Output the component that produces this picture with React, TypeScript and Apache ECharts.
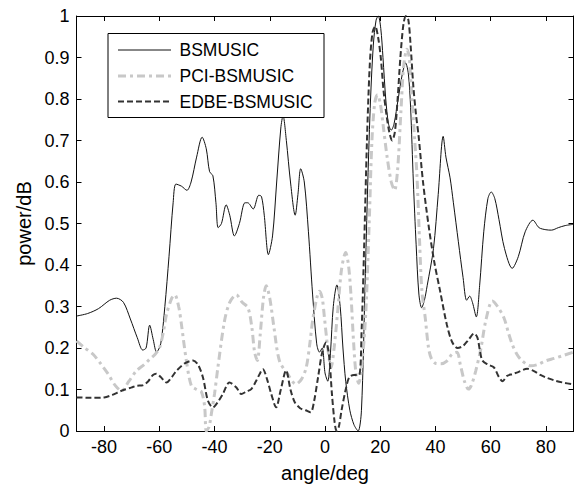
import React, { useEffect, useRef } from "react";
import * as echarts from "echarts";

const xTicks = [-80, -60, -40, -20, 0, 20, 40, 60, 80];
const seriesNames = ["BSMUSIC", "PCI-BSMUSIC", "EDBE-BSMUSIC"];

const bsAngles = [
  -90, -86, -82, -78, -75.5, -73, -70.5, -68, -66, -64.8, -63.5, -62.2, -61, -59.5, -58, -56.5, -55, -54, -52, -50,
  -48.5, -46.5, -44.5, -43, -41.8, -40.6, -39.5, -38.7, -37.5, -35.8, -34.5, -32.8, -31, -29, -28, -26, -24, -23, -22,
  -20.5, -19, -17.5, -16, -15.2, -14, -12.5, -10.8, -9.8, -8.8, -7.5, -6, -4.5, -3, -2, -1, 0, 1, 2, 3, 4.3, 5.5, 6.5,
  7.5, 9, 10.5, 12, 13.2, 14.5, 15.5, 16.5, 17.5, 18.5, 19.3, 20.2, 21, 22, 23, 24, 25, 26.5, 28, 29.2, 30.2, 31, 32,
  33, 34, 35, 36, 37, 39.3, 41, 42.8, 43.8, 45.3, 46.5, 48.3, 50, 51.3, 52.4, 53.4, 54.8, 56, 57.5, 59, 60.2, 61.5, 63,
  65, 67.8, 70, 72.5, 75.3, 77.5, 80, 82, 84.5, 87, 90,
];
const bsValues = [
  0.277, 0.283, 0.295, 0.315, 0.32, 0.31, 0.27, 0.225, 0.195, 0.2, 0.255, 0.22, 0.19, 0.21, 0.3, 0.42, 0.55, 0.595, 0.59,
  0.58, 0.6, 0.66, 0.708, 0.68, 0.625, 0.615, 0.55, 0.49, 0.5, 0.545, 0.52, 0.47, 0.5, 0.55, 0.55, 0.535, 0.568, 0.565,
  0.52, 0.425, 0.47, 0.6, 0.73, 0.76, 0.7, 0.6, 0.52, 0.57, 0.632, 0.6, 0.48, 0.33, 0.21, 0.19, 0.2, 0.14, 0.12, 0.19,
  0.3, 0.352, 0.3, 0.2, 0.12, 0.05, 0.015, 0.0, 0.05, 0.35, 0.6, 0.8, 0.93, 0.99, 1.0, 0.97, 0.9, 0.8, 0.74, 0.725, 0.74,
  0.8, 0.86, 0.887, 0.86, 0.78, 0.6, 0.45, 0.33, 0.297, 0.315, 0.35, 0.44, 0.57, 0.71, 0.66, 0.61, 0.55, 0.456, 0.37,
  0.315, 0.325, 0.31, 0.275, 0.35, 0.48, 0.56, 0.576, 0.56, 0.51, 0.44, 0.392, 0.42, 0.48, 0.508, 0.49, 0.485, 0.484,
  0.49, 0.495, 0.498,
];

const pciAngles = [
  -90, -87, -84, -81, -78.5, -76, -73.7, -71, -68.3, -65.5, -63.5, -61.5, -59.9, -58.5, -57.4, -55.5, -54.4, -53, -52,
  -50.2, -48.4, -46.5, -44.8, -43.6, -43, -42, -41.2, -40, -38.8, -36.4, -34.5, -32.1, -30, -27.9, -26.5, -25.5, -24.5,
  -23.5, -22.3, -21.3, -20, -18.5, -16.5, -13.5, -10.5, -8.5, -6.8, -5.5, -4.5, -3, -2, -1, -0.2, 1, 2.2, 3.3, 4.6, 6,
  7.5, 8.5, 9.4, 10.3, 11.2, 12.2, 13.5, 14.8, 16, 17, 18, 19, 20, 21, 22.5, 24, 25.2, 26.3, 27.5, 28.5, 29.7, 30.5,
  31.5, 32.5, 33.3, 34.3, 35.1, 36.3, 37.5, 38.5, 40, 42, 44, 46, 47.8, 49, 50.5, 51.9, 53, 54.6, 56.5, 58.2, 60.6, 62.5,
  64.8, 66.5, 67.8, 69.5, 71.4, 74.5, 77, 79.9, 83, 85.9, 90,
];
const pciValues = [
  0.217, 0.2, 0.185, 0.16, 0.137, 0.11, 0.097, 0.12, 0.145, 0.16, 0.173, 0.185, 0.201, 0.24, 0.281, 0.32, 0.328, 0.3,
  0.257, 0.169, 0.109, 0.1, 0.095, 0.06, 0.0, 0.01, 0.04, 0.09, 0.153, 0.265, 0.31, 0.328, 0.31, 0.297, 0.25, 0.19, 0.17,
  0.23, 0.32, 0.35, 0.32, 0.25, 0.169, 0.137, 0.113, 0.125, 0.153, 0.21, 0.265, 0.32, 0.337, 0.32, 0.273, 0.2, 0.153,
  0.2, 0.289, 0.39, 0.43, 0.4, 0.328, 0.22, 0.14, 0.115, 0.17, 0.289, 0.5, 0.7, 0.79, 0.81, 0.79, 0.74, 0.66, 0.6, 0.58,
  0.63, 0.77, 0.88, 0.92, 0.9, 0.8, 0.7, 0.616, 0.45, 0.337, 0.273, 0.2, 0.175, 0.163, 0.162, 0.168, 0.185, 0.19, 0.16,
  0.12, 0.101, 0.11, 0.145, 0.2, 0.265, 0.313, 0.3, 0.273, 0.235, 0.209, 0.185, 0.169, 0.157, 0.16, 0.169, 0.175, 0.181,
  0.19,
];

const edbeAngles = [
  -90, -85, -80, -77, -73.7, -70, -68.3, -66, -64, -62.3, -61.1, -59.5, -57.4, -55.5, -53.8, -50.8, -47.8, -46, -44.2,
  -42.4, -40.6, -38.8, -37, -34.6, -32.1, -30.3, -28.5, -26.7, -25, -23.7, -22.5, -21, -19.5, -17.7, -16, -14.1, -12.5,
  -11, -9, -7, -5.2, -4, -2.5, -1, 0.4, 1.5, 2.5, 3.5, 4.2, 5, 6, 7.5, 8.8, 10.5, 12.3, 13.3, 14.2, 15.2, 16.2, 17.2,
  18.2, 19.2, 20.2, 21.2, 22.3, 23.3, 24.3, 25.3, 26.3, 27.3, 28.4, 29.3, 30.2, 31, 32, 33, 33.9, 35.5, 37.5, 39.5, 41.7,
  44.1, 46, 48, 50, 52, 54, 55.2, 56.2, 57, 59, 61.2, 63, 64.3, 66, 67.8, 70, 73.2, 75.5, 78, 80, 83, 86, 90,
];
const edbeValues = [
  0.081, 0.08, 0.081, 0.087, 0.097, 0.105, 0.109, 0.11, 0.12, 0.135, 0.138, 0.13, 0.117, 0.13, 0.145, 0.163, 0.17, 0.16,
  0.129, 0.073, 0.057, 0.07, 0.089, 0.117, 0.105, 0.089, 0.095, 0.101, 0.12, 0.137, 0.149, 0.125, 0.09, 0.057, 0.1,
  0.146, 0.1, 0.07, 0.055, 0.05, 0.045, 0.07, 0.13, 0.19, 0.213, 0.18, 0.09, 0.02, 0.0, 0.01, 0.05, 0.1, 0.13, 0.135,
  0.135, 0.25, 0.45, 0.7, 0.88, 0.96, 0.975, 0.95, 0.9, 0.82, 0.76, 0.72, 0.7, 0.72, 0.8, 0.9, 0.98, 1.0, 0.99, 0.93,
  0.83, 0.76, 0.711, 0.6, 0.496, 0.41, 0.337, 0.257, 0.215, 0.2, 0.205, 0.22, 0.235, 0.225, 0.19, 0.17, 0.16, 0.153,
  0.13, 0.12, 0.133, 0.137, 0.142, 0.15, 0.145, 0.135, 0.129, 0.122, 0.117, 0.112,
];

const pairs = (xs: number[], ys: number[]) => xs.map((x, i) => [x, ys[i]]);

const FONT = "'Liberation Sans', Arial, sans-serif";

const seriesStyles = [
  { color: "#111", width: 1, dash: null as number[] | null },
  { color: "#c8c8c8", width: 3, dash: [8, 4, 3, 4] },
  { color: "#333", width: 2, dash: [6, 3] },
];

export default function App() {
  const ref = useRef<HTMLDivElement>(null);
  useEffect(() => {
    if (!ref.current) return;
    const chart = echarts.init(ref.current, null, { renderer: "svg" });
    const axisLine = { show: true, onZero: false, lineStyle: { color: "#000", width: 1 } };
    const tick = { show: true, inside: true, length: 5, lineStyle: { color: "#000" } };

    const legendX = 108;
    const legendY = 33.5;
    const rowY = [50, 76, 101.5];
    const legendGraphics: any[] = [
      {
        type: "rect",
        z: 10,
        shape: { x: legendX, y: legendY, width: 216, height: 84 },
        style: { fill: "#fff", stroke: "#000", lineWidth: 1 },
      },
    ];
    seriesNames.forEach((name, i) => {
      const s = seriesStyles[i];
      legendGraphics.push({
        type: "line",
        z: 11,
        shape: { x1: 118, y1: rowY[i], x2: 171, y2: rowY[i] },
        style: { stroke: s.color, lineWidth: s.width, lineDash: s.dash || undefined },
      });
      legendGraphics.push({
        type: "text",
        z: 11,
        x: 179.5,
        y: rowY[i],
        style: {
          text: name,
          fill: "#000",
          font: `17.5px ${FONT}`,
          textVerticalAlign: "middle",
          verticalAlign: "middle",
        },
      });
    });

    chart.setOption({
      animation: false,
      backgroundColor: "#fff",
      textStyle: { fontFamily: FONT },
      grid: { left: 76.5, right: 0.5, top: 16, bottom: 54, containLabel: false },
      xAxis: [
        {
          type: "value",
          min: -90,
          max: 90,
          position: "bottom",
          name: "angle/deg",
          nameLocation: "middle",
          nameGap: 32,
          nameTextStyle: { fontSize: 20, color: "#000", fontFamily: FONT },
          axisLine,
          axisTick: { ...tick, customValues: xTicks },
          axisLabel: { customValues: xTicks, fontSize: 18, color: "#000", margin: 7, fontFamily: FONT },
          splitLine: { show: false },
        },
        {
          type: "value",
          min: -90,
          max: 90,
          position: "top",
          axisLine,
          axisTick: { ...tick, customValues: xTicks },
          axisLabel: { show: false },
          splitLine: { show: false },
        },
      ],
      yAxis: [
        {
          type: "value",
          min: 0,
          max: 1,
          interval: 0.1,
          position: "left",
          name: "power/dB",
          nameLocation: "middle",
          nameGap: 42,
          nameTextStyle: { fontSize: 20, color: "#000", fontFamily: FONT },
          axisLine,
          axisTick: tick,
          axisLabel: {
            fontSize: 18,
            color: "#000",
            margin: 7,
            fontFamily: FONT,
            formatter: (v: number) => String(Math.round(v * 10) / 10),
          },
          splitLine: { show: false },
        },
        {
          type: "value",
          min: 0,
          max: 1,
          interval: 0.1,
          position: "right",
          axisLine,
          axisTick: tick,
          axisLabel: { show: false },
          splitLine: { show: false },
        },
      ],
      graphic: legendGraphics,
      series: [
        { angles: bsAngles, values: bsValues },
        { angles: pciAngles, values: pciValues },
        { angles: edbeAngles, values: edbeValues },
      ].map((d, i) => ({
        name: seriesNames[i],
        type: "line",
        data: pairs(d.angles, d.values),
        symbol: "none",
        smooth: 0.3,
        z: 2,
        lineStyle: {
          color: seriesStyles[i].color,
          width: seriesStyles[i].width,
          type: seriesStyles[i].dash || "solid",
        },
        itemStyle: { color: seriesStyles[i].color },
      })),
    });
    return () => chart.dispose();
  }, []);
  return (
    <div
      ref={ref}
      style={{ position: "fixed", left: 0, top: 0, width: 574, height: 488, background: "#fff" }}
    />
  );
}
